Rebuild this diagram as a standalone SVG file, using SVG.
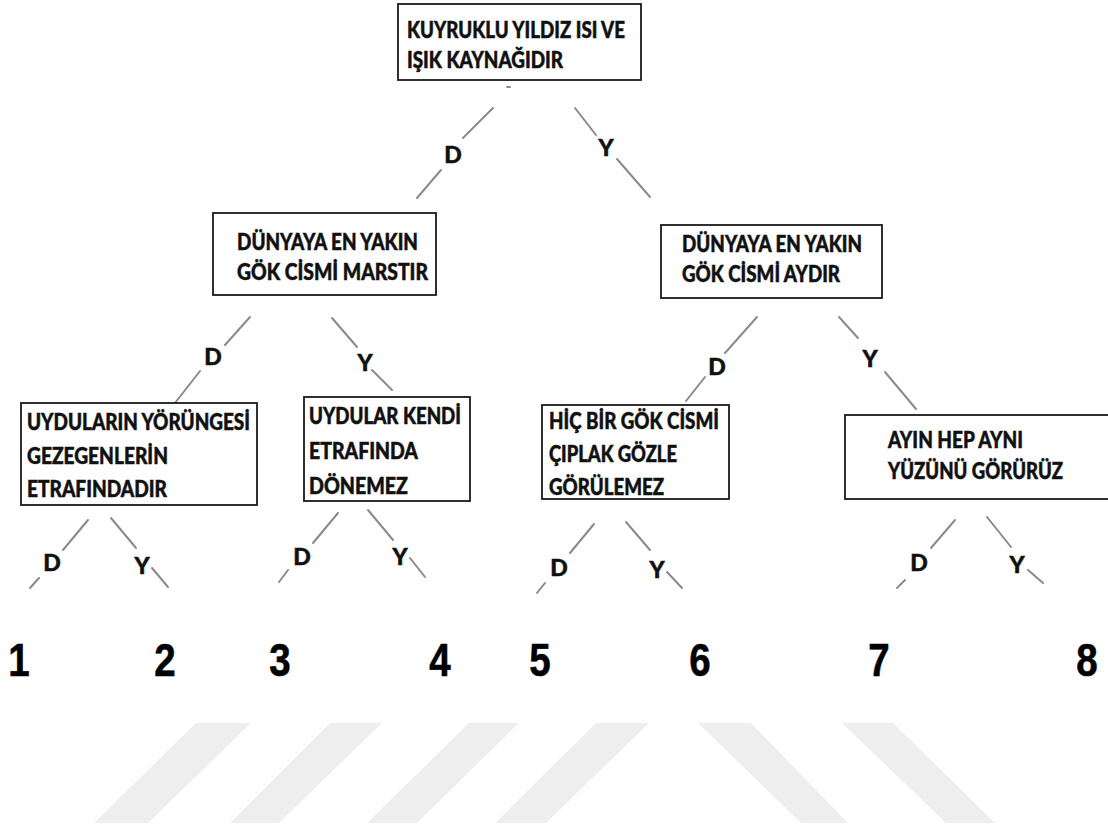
<svg xmlns="http://www.w3.org/2000/svg" width="1108" height="826" viewBox="0 0 1108 826">
<style>
.box{fill:#fff;stroke:#1a1a1a;stroke-width:1.8}
.t{font-family:Lato,"Open Sans","Liberation Sans",sans-serif;font-weight:900;font-size:22px;fill:#111;stroke:#111;stroke-width:0.5}
.lbl{font-family:Lato,"Open Sans","Liberation Sans",sans-serif;font-weight:900;font-size:23px;fill:#111;stroke:#111;stroke-width:0.5;text-anchor:middle}
.num{font-family:"Liberation Sans",Arial,sans-serif;font-weight:700;font-size:47px;fill:#000;stroke:#000;stroke-width:0.6;text-anchor:middle}
.c line{stroke:#8a8a8a;stroke-width:2;stroke-linecap:round}
.wm{fill:#eeeeee}
</style>
<rect width="1108" height="826" fill="#fff"/>
<g id="watermark">
<polygon class="wm" points="196,723 251,723 148,823 94,823"/>
<polygon class="wm" points="330,723 382,723 279,823 230,823"/>
<polygon class="wm" points="469,723 519,723 417,823 367,823"/>
<polygon class="wm" points="596,723 649,723 546,823 495,823"/>
<polygon class="wm" points="698,723 751,723 848,823 801,823"/>
<polygon class="wm" points="842,723 893,723 995,823 946,823"/>
</g>
<g id="connectors" class="c">
<line x1="507" y1="87" x2="510" y2="87"/>
<line x1="493" y1="108" x2="463" y2="138"/>
<line x1="441" y1="170" x2="417" y2="198"/>
<line x1="575" y1="108" x2="596" y2="135"/>
<line x1="617" y1="159" x2="650" y2="197"/>
<line x1="250" y1="317" x2="225" y2="345"/>
<line x1="200" y1="371" x2="175" y2="403"/>
<line x1="332" y1="318" x2="357" y2="347"/>
<line x1="372" y1="370" x2="392" y2="390"/>
<line x1="757" y1="317" x2="725" y2="353"/>
<line x1="705" y1="377" x2="686" y2="401"/>
<line x1="839" y1="317" x2="858" y2="338"/>
<line x1="885" y1="372" x2="916" y2="409"/>
<line x1="88" y1="520" x2="63" y2="550"/>
<line x1="39" y1="578" x2="30" y2="588"/>
<line x1="111" y1="518" x2="136" y2="548"/>
<line x1="152" y1="568" x2="168" y2="587"/>
<line x1="338" y1="513" x2="313" y2="543"/>
<line x1="288" y1="570" x2="279" y2="582"/>
<line x1="368" y1="510" x2="393" y2="540"/>
<line x1="410" y1="558" x2="425" y2="577"/>
<line x1="594" y1="524" x2="570" y2="553"/>
<line x1="545" y1="583" x2="537" y2="593"/>
<line x1="626" y1="522" x2="650" y2="550"/>
<line x1="667" y1="572" x2="682" y2="588"/>
<line x1="955" y1="520" x2="931" y2="548"/>
<line x1="905" y1="580" x2="897" y2="588"/>
<line x1="987" y1="517" x2="1011" y2="547"/>
<line x1="1028" y1="570" x2="1043" y2="583"/>
</g>
<g id="edge-labels">
<text class="lbl" x="453" y="163">D</text>
<text class="lbl" x="606" y="156">Y</text>
<text class="lbl" x="213" y="365">D</text>
<text class="lbl" x="365" y="371">Y</text>
<text class="lbl" x="717" y="375">D</text>
<text class="lbl" x="870" y="367">Y</text>
<text class="lbl" x="52" y="571">D</text>
<text class="lbl" x="142" y="574">Y</text>
<text class="lbl" x="302" y="565">D</text>
<text class="lbl" x="400" y="565">Y</text>
<text class="lbl" x="559" y="576">D</text>
<text class="lbl" x="657" y="578">Y</text>
<text class="lbl" x="919" y="571">D</text>
<text class="lbl" x="1017" y="573">Y</text>
</g>
<g id="n-root">
<rect class="box" x="398" y="4" width="243" height="76"/>
<text class="t" x="407" y="38" textLength="218" lengthAdjust="spacingAndGlyphs">KUYRUKLU YILDIZ ISI VE</text>
<text class="t" x="407" y="68" textLength="156" lengthAdjust="spacingAndGlyphs">IŞIK KAYNAĞIDIR</text>
</g>
<g id="n-mars">
<rect class="box" x="213" y="213" width="223" height="82"/>
<text class="t" x="237" y="250" textLength="181" lengthAdjust="spacingAndGlyphs">DÜNYAYA EN YAKIN</text>
<text class="t" x="237" y="280" textLength="191" lengthAdjust="spacingAndGlyphs">GÖK CİSMİ MARSTIR</text>
</g>
<g id="n-ay">
<rect class="box" x="661" y="225" width="221" height="73"/>
<text class="t" x="682" y="252" textLength="180" lengthAdjust="spacingAndGlyphs">DÜNYAYA EN YAKIN</text>
<text class="t" x="682" y="282" textLength="158" lengthAdjust="spacingAndGlyphs">GÖK CİSMİ AYDIR</text>
</g>
<g id="n-uydu1">
<rect class="box" x="21" y="403" width="236" height="102"/>
<text class="t" x="27" y="430" textLength="223" lengthAdjust="spacingAndGlyphs">UYDULARIN YÖRÜNGESİ</text>
<text class="t" x="27" y="464" textLength="141" lengthAdjust="spacingAndGlyphs">GEZEGENLERİN</text>
<text class="t" x="27" y="497" textLength="140" lengthAdjust="spacingAndGlyphs">ETRAFINDADIR</text>
</g>
<g id="n-uydu2">
<rect class="box" x="304" y="397" width="166" height="104"/>
<text class="t" x="309" y="424" textLength="152" lengthAdjust="spacingAndGlyphs">UYDULAR KENDİ</text>
<text class="t" x="309" y="459" textLength="109" lengthAdjust="spacingAndGlyphs">ETRAFINDA</text>
<text class="t" x="309" y="494" textLength="99" lengthAdjust="spacingAndGlyphs">DÖNEMEZ</text>
</g>
<g id="n-ciplak">
<rect class="box" x="542" y="405" width="187" height="94"/>
<text class="t" x="549" y="429" textLength="170" lengthAdjust="spacingAndGlyphs">HİÇ BİR GÖK CİSMİ</text>
<text class="t" x="549" y="462" textLength="128" lengthAdjust="spacingAndGlyphs">ÇIPLAK GÖZLE</text>
<text class="t" x="549" y="495" textLength="115" lengthAdjust="spacingAndGlyphs">GÖRÜLEMEZ</text>
</g>
<g id="n-yuz">
<rect class="box" x="845" y="415" width="275" height="84"/>
<text class="t" x="888" y="448" textLength="135" lengthAdjust="spacingAndGlyphs">AYIN HEP AYNI</text>
<text class="t" x="888" y="479" textLength="175" lengthAdjust="spacingAndGlyphs">YÜZÜNÜ GÖRÜRÜZ</text>
</g>
<g id="outcomes">
<text class="num" transform="translate(19,676) scale(0.82,1)">1</text>
<text class="num" transform="translate(165,676) scale(0.82,1)">2</text>
<text class="num" transform="translate(280,676) scale(0.82,1)">3</text>
<text class="num" transform="translate(440,676) scale(0.82,1)">4</text>
<text class="num" transform="translate(540,676) scale(0.82,1)">5</text>
<text class="num" transform="translate(700,676) scale(0.82,1)">6</text>
<text class="num" transform="translate(879,676) scale(0.82,1)">7</text>
<text class="num" transform="translate(1087,676) scale(0.82,1)">8</text>
</g>
</svg>
